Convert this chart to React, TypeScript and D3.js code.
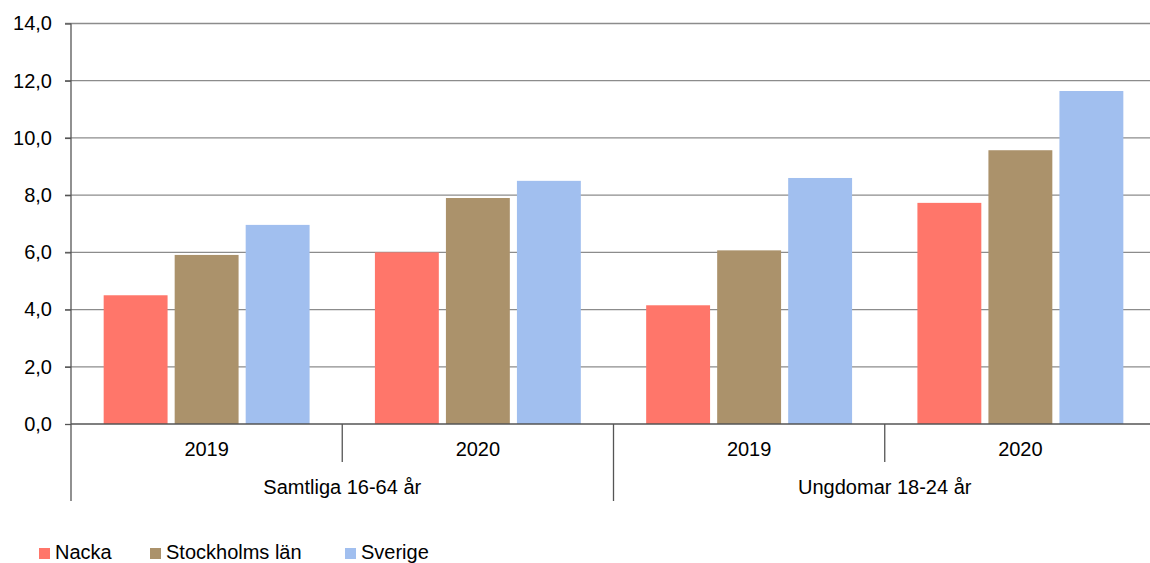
import * as d3 from "d3";
import React, { useEffect, useRef } from "react";

// data
const groups = ["Samtliga 16-64 år", "Ungdomar 18-24 år"];
const years = ["2019", "2020"];
const seriesNames = ["Nacka", "Stockholms län", "Sverige"];
const colors = ["#FF766A", "#AB926B", "#A1BFEF"];
const nacka = [4.5, 6.0, 4.15, 7.73];
const stockholm = [5.91, 7.9, 6.07, 9.57];
const sverige = [6.96, 8.5, 8.6, 11.64];
const yTicks = [0, 2, 4, 6, 8, 10, 12, 14];

export default function App() {
  const svgRef = useRef<SVGSVGElement>(null);
  const width = 1150;
  const height = 563;
  const margin = { top: 23.5, left: 71, right: -6, bottom: 139 };

  useEffect(() => {
    const svg = d3.select(svgRef.current);
    svg.selectAll("*").remove();
    const font = "'Liberation Sans', Arial, sans-serif";
    const fs = 20;

    const cats = groups.flatMap((g) => years.map((yr) => g + "|" + yr));
    const x = d3.scaleBand().domain(cats).range([margin.left, width - margin.right]);
    const inner = d3.scaleBand().domain(seriesNames).range([0, x.bandwidth()]).paddingInner(0.1).paddingOuter(0.46);
    const y = d3.scaleLinear().domain([0, 14]).range([height - margin.bottom, margin.top]);
    const values = [nacka, stockholm, sverige];

    // gridlines
    svg.append("g").selectAll("line").data(yTicks.slice(1)).enter().append("line")
      .attr("x1", margin.left - 6).attr("x2", width)
      .attr("y1", (d) => y(d)).attr("y2", (d) => y(d))
      .attr("stroke", "#8c8c8c").attr("stroke-width", 1.3);

    // bars
    seriesNames.forEach((s, si) => {
      svg.append("g").selectAll("rect").data(cats).enter().append("rect")
        .attr("x", (c) => (x(c) as number) + (inner(s) as number))
        .attr("width", inner.bandwidth())
        .attr("y", (c, i) => y(values[si][i]))
        .attr("height", (c, i) => y(0) - y(values[si][i]))
        .attr("fill", colors[si]);
    });

    // y axis
    const yAxis = d3.axisLeft(y).tickValues(yTicks).tickSize(6).tickFormat((d) => d3.format(".1f")(d as number).replace(".", ","));
    const ga = svg.append("g").attr("transform", `translate(${margin.left},0)`).call(yAxis);
    ga.select(".domain").remove();
    ga.selectAll(".tick line").attr("stroke", "#555").attr("stroke-width", 1.3);
    ga.selectAll(".tick text").attr("font-family", font).attr("font-size", fs).attr("fill", "#000").attr("x", -19);

    // axis lines
    svg.append("line").attr("x1", margin.left).attr("x2", margin.left)
      .attr("y1", margin.top).attr("y2", 501).attr("stroke", "#555").attr("stroke-width", 1.3);
    svg.append("line").attr("x1", margin.left).attr("x2", width)
      .attr("y1", y(0)).attr("y2", y(0)).attr("stroke", "#555").attr("stroke-width", 1.3);

    // category separators
    cats.forEach((c, i) => {
      if (i === 0) return;
      const xp = x(c) as number;
      const isGroup = i % years.length === 0;
      svg.append("line").attr("x1", xp).attr("x2", xp)
        .attr("y1", y(0)).attr("y2", isGroup ? 501 : 462)
        .attr("stroke", "#555").attr("stroke-width", 1.3);
    });

    // year labels
    svg.append("g").selectAll("text").data(cats).enter().append("text")
      .attr("x", (c) => (x(c) as number) + x.bandwidth() / 2)
      .attr("y", 456).attr("text-anchor", "middle")
      .attr("font-family", font).attr("font-size", fs).attr("fill", "#000")
      .text((c) => c.split("|")[1]);

    // group labels
    svg.append("g").selectAll("text").data(groups).enter().append("text")
      .attr("x", (g) => (x(g + "|" + years[0]) as number) + x.bandwidth())
      .attr("y", 494).attr("text-anchor", "middle")
      .attr("font-family", font).attr("font-size", fs).attr("fill", "#000")
      .text((g) => g);

    // legend
    const legendX = [39, 150, 345];
    const lg = svg.append("g").selectAll("g").data(seriesNames).enter().append("g")
      .attr("transform", (d, i) => `translate(${legendX[i]},${548})`);
    lg.append("rect").attr("width", 11).attr("height", 11).attr("fill", (d, i) => colors[i]);
    lg.append("text").attr("x", 16).attr("y", 10.5).attr("font-family", font).attr("font-size", fs)
      .attr("fill", "#000").text((d) => d);
  }, []);

  return (
    <svg ref={svgRef} width={width} height={height}
      style={{ position: "absolute", left: 0, top: 0, background: "#fff" }} />
  );
}
